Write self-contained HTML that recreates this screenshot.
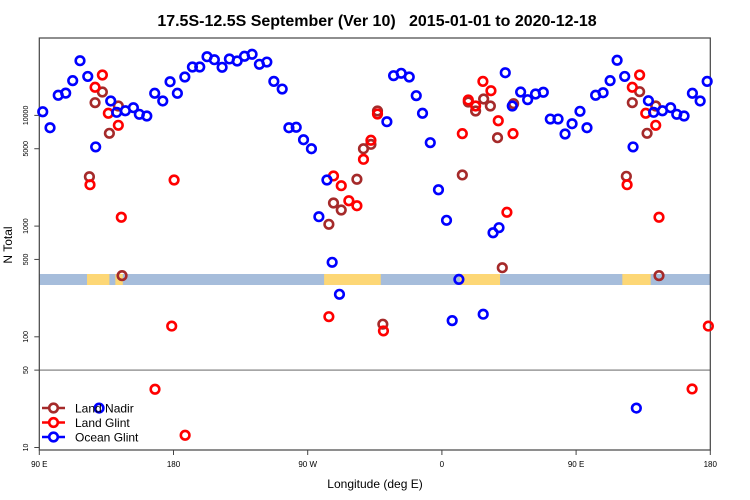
<!DOCTYPE html>
<html><head><meta charset="utf-8"><style>
body{margin:0;background:#fff;}
svg{display:block;font-family:"Liberation Sans",sans-serif;}
</style></head><body>
<svg id="chart" width="750" height="500" viewBox="0 0 750 500">
<text x="377" y="26" text-anchor="middle" font-size="16" font-weight="bold">17.5S-12.5S September (Ver 10)&#160;&#160;&#160;2015-01-01 to 2020-12-18</text>
<text x="375" y="488" text-anchor="middle" font-size="12">Longitude (deg E)</text>
<text transform="translate(12,245) rotate(-90)" text-anchor="middle" font-size="12">N Total</text>
<g id="strip"></g>
<g id="axes"></g>
<g id="marks"></g>
<g id="legend"></g>
</svg>
<script>
const xTicks=[90,180,270,360,450,540];
const xTickLabels=["90 E","180","90 W","0","90 E","180"];
const yTicks=[10,50,100,500,1000,5000,10000];
const yTickLabels=["10","50","100","500","1000","5000","10000"];
const landLon=[[122,137],[141,146],[281,319],[372,399],[481,500]];
const nadirLon=[132.3,127.4,137.0,143.0,123.6,145.5,284.2,287.3,292.5,303.0,307.4,312.4,316.8,373.7,377.7,382.6,388.0,392.5,397.3,408.1,400.5,320.4,483.7,492.6,487.7,503.4,497.6,505.6];
const nadirVal=[16260,13030,6890,12160,2793,357,1038,1617,1397,2650,5000,5480,10960,2897,13210,10960,14060,12160,6290,12760,421,130,2818,16380,13030,12160,6890,357];
const glintLon=[132.3,127.4,136.3,143.0,124.0,145.0,180.4,287.3,292.5,297.6,303.0,307.4,312.4,316.8,373.7,377.7,382.6,387.5,392.9,397.8,407.7,403.6,484.2,487.7,492.6,496.7,503.4,505.6,284.2,178.8,167.6,187.8,320.8,538.7,527.8];
const glintVal=[23170,17950,10450,8140,2366,1202,2610,2838,2317,1695,1528,4010,5960,10300,6840,13770,12160,20300,16710,8950,6840,1333,2366,17950,23170,10450,8140,1202,152,125,33.6,12.9,113,125,33.8];
const oceanLon=[92.3,97.2,102.7,107.7,112.4,117.3,122.5,127.8,137.9,141.9,147.7,153.1,157.1,162.1,167.4,172.8,177.7,182.6,187.6,192.7,197.6,202.5,207.4,212.6,217.5,222.7,227.6,232.7,237.6,242.6,247.3,252.9,257.4,262.3,267.2,272.5,277.5,282.9,286.4,291.3,323.1,327.6,332.7,338.1,342.8,347.0,352.2,357.7,363.1,366.9,371.4,387.7,394.3,398.3,402.5,407.2,412.8,417.5,422.8,428.0,432.7,437.9,442.6,447.3,452.6,457.3,463.1,468.1,472.8,477.5,482.6,488.2,498.5,502.0,507.9,513.4,517.5,522.4,528.0,533.2,537.9,130.1,490.4];
const oceanVal=[10790,7740,15200,15900,20600,31200,22500,5190,13500,10660,11020,11740,10230,9880,15840,13500,20150,15840,22230,27370,27370,33900,31850,27200,32350,31000,34200,35650,28950,30340,20300,17300,7740,7810,6030,5000,1216,2610,471,242,8770,22850,24000,22230,15070,10450,5670,2130,1128,140,330,160,871,968,24300,12160,16260,13870,15600,16180,9270,9270,6790,8410,10890,7740,15200,16030,20600,31470,22500,5190,13580,10660,11020,11740,10230,9880,15840,13500,20300,22.7,22.7];

const NS='http://www.w3.org/2000/svg';
const L=39.3,R=710.3,T=38,B=450;
const X=lon=>L+(lon-90)*(R-L)/450;
const Y=v=>447.5-(Math.log10(v)-1)*110.7;
function mk(tag,attrs,parent){const e=document.createElementNS(NS,tag);for(const k in attrs)e.setAttribute(k,attrs[k]);parent.appendChild(e);return e;}
const strip=document.getElementById('strip'),axes=document.getElementById('axes'),marks=document.getElementById('marks'),legend=document.getElementById('legend');
const sb=mk('rect',{x:L,y:274,width:R-L,height:11,fill:'#a6bddb'},strip);


landLon.forEach(s=>{const r=mk('rect',{x:X(s[0]),y:274,width:X(s[1])-X(s[0]),height:11,fill:'#fdd776'},strip);

});
const ln=mk('line',{x1:L,x2:R,y1:Y(50),y2:Y(50),stroke:'#999',"stroke-width":1.5},axes);


const fr=mk('rect',{x:L,y:T,width:R-L,height:B-T,fill:'none',stroke:'#444',"stroke-width":1.2},axes);


xTicks.forEach((t,i)=>{mk('line',{x1:X(t),x2:X(t),y1:B,y2:B+5,stroke:'#444'},axes);
const tx=mk('text',{x:X(t),y:B+17,"text-anchor":"middle","font-size":8},axes);tx.textContent=xTickLabels[i];

});
yTicks.forEach((t,i)=>{mk('line',{x1:L-5,x2:L,y1:Y(t),y2:Y(t),stroke:'#444'},axes);
const tx=mk('text',{transform:`translate(28,${Y(t)}) rotate(-90)`,"text-anchor":"middle","font-size":7},axes);tx.textContent=yTickLabels[i];

});
function series(lons,vals,color,name){lons.forEach((lo,i)=>{const c=mk('circle',{cx:X(lo),cy:Y(vals[i]),r:4.3,fill:'none',stroke:color,"stroke-width":2.6},marks);

});}
series(nadirLon,nadirVal,'#a52a2a','land-nadir');
series(glintLon,glintVal,'#ff0000','land-glint');
series(oceanLon,oceanVal,'#0000ff','ocean-glint');
[['Land Nadir','#a52a2a'],['Land Glint','#ff0000'],['Ocean Glint','#0000ff']].forEach((e,i)=>{const y=408+i*14.5;
const g=mk('g',{},legend);


mk('line',{x1:42,x2:65,y1:y,y2:y,stroke:e[1],"stroke-width":2.6},g);
mk('circle',{cx:53.5,cy:y,r:4.3,fill:'#fff',stroke:e[1],"stroke-width":2.6},g);
const t=mk('text',{x:75,y:y+4.5,"font-size":12},g);t.textContent=e[0];});
</script>
</body></html>
